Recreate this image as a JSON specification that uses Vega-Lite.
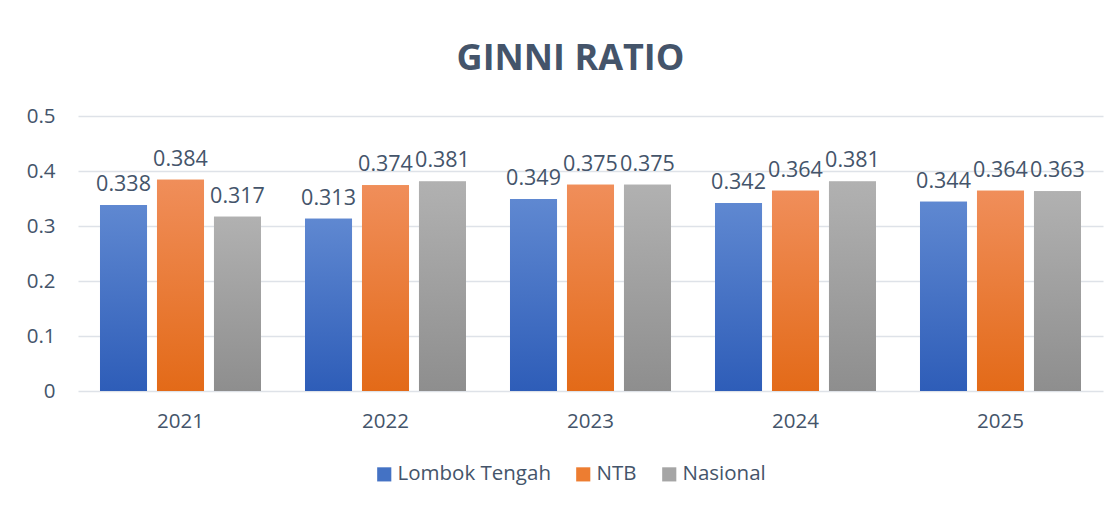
{
  "$schema": "https://vega.github.io/schema/vega-lite/v6.json",
  "width": 1025,
  "height": 275,
  "autosize": {"type": "none"},
  "padding": {"left": 78, "top": 116, "right": 15, "bottom": 115},
  "background": "white",
  "title": {
    "text": "GINNI RATIO",
    "font": "Open Sans",
    "fontSize": 36,
    "fontWeight": "bold",
    "color": "#44546A",
    "anchor": "middle",
    "dx": -20,
    "baseline": "alphabetic",
    "offset": 0
  },
  "data": {
    "values": [
      {"year": "2021", "series": "Lombok Tengah", "value": 0.338},
      {"year": "2021", "series": "NTB", "value": 0.384},
      {"year": "2021", "series": "Nasional", "value": 0.317},
      {"year": "2022", "series": "Lombok Tengah", "value": 0.313},
      {"year": "2022", "series": "NTB", "value": 0.374},
      {"year": "2022", "series": "Nasional", "value": 0.381},
      {"year": "2023", "series": "Lombok Tengah", "value": 0.349},
      {"year": "2023", "series": "NTB", "value": 0.375},
      {"year": "2023", "series": "Nasional", "value": 0.375},
      {"year": "2024", "series": "Lombok Tengah", "value": 0.342},
      {"year": "2024", "series": "NTB", "value": 0.364},
      {"year": "2024", "series": "Nasional", "value": 0.381},
      {"year": "2025", "series": "Lombok Tengah", "value": 0.344},
      {"year": "2025", "series": "NTB", "value": 0.364},
      {"year": "2025", "series": "Nasional", "value": 0.363}
    ]
  },
  "encoding": {
    "x": {
      "field": "year",
      "type": "nominal",
      "scale": {"paddingInner": 0.2146, "paddingOuter": 0.1073},
      "axis": {
        "title": null,
        "labelAngle": 0,
        "labelFont": "Open Sans",
        "labelFontSize": 20.5,
        "labelColor": "#44546A",
        "labelPadding": 20,
        "ticks": false,
        "domain": false,
        "grid": false
      }
    },
    "xOffset": {
      "field": "series",
      "type": "nominal",
      "scale": {"domain": ["Lombok Tengah", "NTB", "Nasional"], "paddingInner": 0.175, "paddingOuter": 0}
    },
    "y": {
      "field": "value",
      "type": "quantitative",
      "scale": {"domain": [0, 0.5], "nice": false},
      "axis": {
        "title": null,
        "values": [0, 0.1, 0.2, 0.3, 0.4, 0.5],
        "format": "~g",
        "labelFont": "Open Sans",
        "labelFontSize": 20.5,
        "labelColor": "#44546A",
        "labelPadding": 23,
        "ticks": false,
        "domain": false,
        "grid": true,
        "gridColor": "#DEE2E8",
        "gridWidth": 1.5
      }
    }
  },
  "layer": [
    {
      "mark": {"type": "bar"},
      "encoding": {
        "color": {
          "field": "series",
          "type": "nominal",
          "scale": {"domain": ["Lombok Tengah", "NTB", "Nasional"], "range": ["#4472C4", "#ED7D31", "#A5A5A5"]},
          "legend": {
            "title": null,
            "orient": "none",
            "direction": "horizontal",
            "legendX": 296,
            "legendY": 348,
            "symbolType": "square",
            "symbolSize": 200,
            "symbolStrokeWidth": 0,
            "labelFont": "Open Sans",
            "labelFontSize": 20.5,
            "labelColor": "#44546A",
            "labelOffset": 3,
            "columnPadding": 22,
            "padding": 0
          }
        }
      }
    },
    {
      "transform": [{"filter": "datum.series === 'Lombok Tengah'"}],
      "mark": {
        "type": "bar",
        "fill": {"gradient": "linear", "x1": 0, "y1": 0, "x2": 0, "y2": 1,
          "stops": [{"offset": 0, "color": "#5F88D1"}, {"offset": 1, "color": "#2E5DB8"}]}
      }
    },
    {
      "transform": [{"filter": "datum.series === 'NTB'"}],
      "mark": {
        "type": "bar",
        "fill": {"gradient": "linear", "x1": 0, "y1": 0, "x2": 0, "y2": 1,
          "stops": [{"offset": 0, "color": "#F08E5A"}, {"offset": 1, "color": "#E36A18"}]}
      }
    },
    {
      "transform": [{"filter": "datum.series === 'Nasional'"}],
      "mark": {
        "type": "bar",
        "fill": {"gradient": "linear", "x1": 0, "y1": 0, "x2": 0, "y2": 1,
          "stops": [{"offset": 0, "color": "#B1B1B1"}, {"offset": 1, "color": "#8E8E8E"}]}
      }
    },
    {
      "mark": {
        "type": "text",
        "baseline": "bottom",
        "dy": -9,
        "font": "Open Sans",
        "fontSize": 21.5,
        "color": "#44546A"
      },
      "encoding": {
        "text": {"field": "value", "type": "quantitative", "format": ".3f"}
      }
    }
  ],
  "config": {
    "view": {"stroke": null}
  }
}
